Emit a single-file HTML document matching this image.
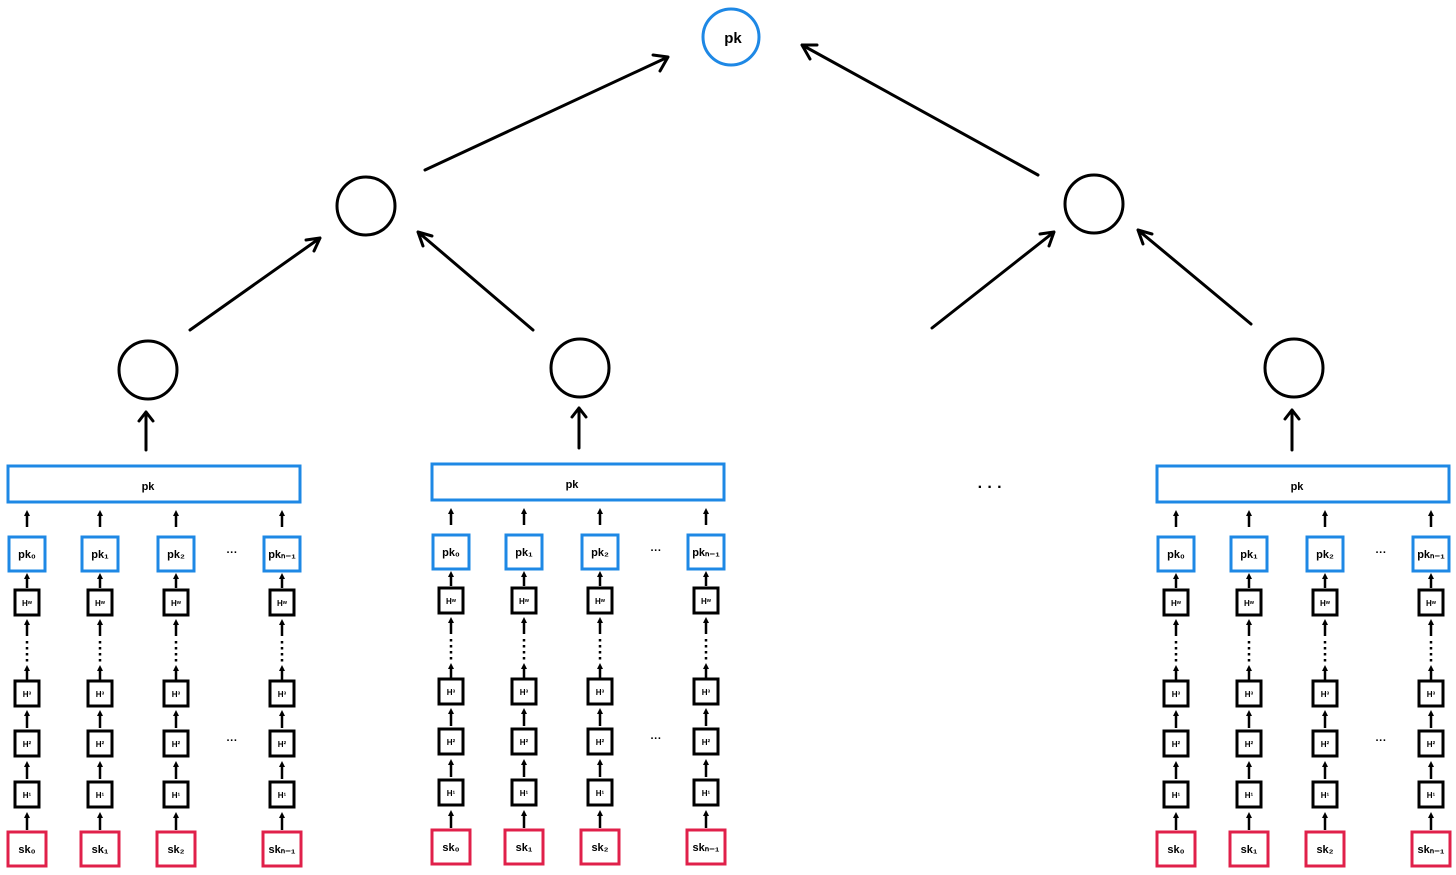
<!DOCTYPE html>
<html><head><meta charset="utf-8"><style>
html,body{margin:0;padding:0;background:#fff;}
svg{display:block}
text{font-family:"Liberation Sans",sans-serif;font-weight:bold;fill:#000;text-anchor:middle}
.s{font-size:11px}
.t{font-size:8px}
</style></head><body>
<svg width="1456" height="875" viewBox="0 0 1456 875" xmlns="http://www.w3.org/2000/svg">
<defs>
<marker id="sa" markerWidth="6" markerHeight="6" refX="3" refY="3" orient="auto" markerUnits="userSpaceOnUse"><path d="M0,0 L6,3 L0,6 z" fill="#000"/></marker>
<g id="col" fill="none" stroke-width="3">
 <line x1="0" y1="527" x2="0" y2="513" stroke="#000" stroke-width="2.5" marker-end="url(#sa)"/>
 <rect x="-18" y="537" width="36" height="34" stroke="#1e88e5"/>
 <line x1="0" y1="588" x2="0" y2="576" stroke="#000" stroke-width="2.5" marker-end="url(#sa)"/>
 <rect x="-12" y="590" width="24" height="25" stroke="#000"/>
 <line x1="0" y1="636" x2="0" y2="622" stroke="#000" stroke-width="2.5" marker-end="url(#sa)"/>
 <line x1="0" y1="641" x2="0" y2="664" stroke="#000" stroke-width="2.5" stroke-dasharray="2.5,3.5"/>
 <line x1="0" y1="680" x2="0" y2="668" stroke="#000" stroke-width="2.5" marker-end="url(#sa)"/>
 <rect x="-12" y="681" width="24" height="25" stroke="#000"/>
 <line x1="0" y1="728" x2="0" y2="713" stroke="#000" stroke-width="2.5" marker-end="url(#sa)"/>
 <rect x="-12" y="731" width="24" height="25" stroke="#000"/>
 <line x1="0" y1="779" x2="0" y2="764" stroke="#000" stroke-width="2.5" marker-end="url(#sa)"/>
 <rect x="-12" y="782" width="24" height="25" stroke="#000"/>
 <line x1="0" y1="830" x2="0" y2="815" stroke="#000" stroke-width="2.5" marker-end="url(#sa)"/>
 <rect x="-19" y="832" width="38" height="34" stroke="#e0204a"/>
</g>
<g id="blk">
 <rect x="8" y="466" width="292" height="36" fill="none" stroke="#1e88e5" stroke-width="3"/>
 <use href="#col" x="27"/><use href="#col" x="100"/><use href="#col" x="176"/><use href="#col" x="282"/>
</g>
</defs>

<!-- tree -->
<g fill="none" stroke="#000" stroke-width="3" stroke-linecap="round" stroke-linejoin="round">
 <circle cx="731" cy="37" r="28" stroke="#1e88e5"/>
 <circle cx="366" cy="206" r="29"/>
 <circle cx="1094" cy="204" r="29"/>
 <circle cx="148" cy="370" r="29"/>
 <circle cx="580" cy="368" r="29"/>
 <circle cx="1294" cy="368" r="29"/>
 <path d="M146,450 L146,412 M139,421 L146,412 L153,421"/>
 <path d="M579,448 L579,408 M572,417 L579,408 L586,417"/>
 <path d="M1292,450 L1292,410 M1285,419 L1292,410 L1299,419"/>
 <path d="M190,330 L320,238 M306,240 L320,238 L314,251"/>
 <path d="M533,330 L418,232 M423,246 L418,232 L432,236"/>
 <path d="M932,328 L1054,232 M1040,234 L1054,232 L1049,246"/>
 <path d="M1251,324 L1138,230 M1143,244 L1138,230 L1152,234"/>
 <path d="M425,170 L668,57 M653,55 L668,57 L660,71"/>
 <path d="M1038,175 L802,45 M810,59 L802,45 L817,45"/>
</g>
<text x="733" y="43" class="s" style="font-size:15px">pk</text>
<text x="990" y="492" style="font-size:16px">· · ·</text>

<!-- blocks -->
<g><use href="#blk"/>
 <text x="148" y="490" class="s">pk</text>
 <text x="232" y="556" class="s">···</text><text x="232" y="744" class="s">···</text>
 <text x="27" y="558" class="s">pk₀</text><text x="100" y="558" class="s">pk₁</text><text x="176" y="558" class="s">pk₂</text><text x="282" y="558" class="s">pkₙ₋₁</text>
 <text x="27" y="606" class="t">Hʷ</text><text x="100" y="606" class="t">Hʷ</text><text x="176" y="606" class="t">Hʷ</text><text x="282" y="606" class="t">Hʷ</text>
 <text x="27" y="697" class="t">H³</text><text x="100" y="697" class="t">H³</text><text x="176" y="697" class="t">H³</text><text x="282" y="697" class="t">H³</text>
 <text x="27" y="747" class="t">H²</text><text x="100" y="747" class="t">H²</text><text x="176" y="747" class="t">H²</text><text x="282" y="747" class="t">H²</text>
 <text x="27" y="798" class="t">H¹</text><text x="100" y="798" class="t">H¹</text><text x="176" y="798" class="t">H¹</text><text x="282" y="798" class="t">H¹</text>
 <text x="27" y="853" class="s">sk₀</text><text x="100" y="853" class="s">sk₁</text><text x="176" y="853" class="s">sk₂</text><text x="282" y="853" class="s">skₙ₋₁</text>
</g>
<g transform="translate(424,-2)"><use href="#blk"/>
 <text x="148" y="490" class="s">pk</text>
 <text x="232" y="556" class="s">···</text><text x="232" y="744" class="s">···</text>
 <text x="27" y="558" class="s">pk₀</text><text x="100" y="558" class="s">pk₁</text><text x="176" y="558" class="s">pk₂</text><text x="282" y="558" class="s">pkₙ₋₁</text>
 <text x="27" y="606" class="t">Hʷ</text><text x="100" y="606" class="t">Hʷ</text><text x="176" y="606" class="t">Hʷ</text><text x="282" y="606" class="t">Hʷ</text>
 <text x="27" y="697" class="t">H³</text><text x="100" y="697" class="t">H³</text><text x="176" y="697" class="t">H³</text><text x="282" y="697" class="t">H³</text>
 <text x="27" y="747" class="t">H²</text><text x="100" y="747" class="t">H²</text><text x="176" y="747" class="t">H²</text><text x="282" y="747" class="t">H²</text>
 <text x="27" y="798" class="t">H¹</text><text x="100" y="798" class="t">H¹</text><text x="176" y="798" class="t">H¹</text><text x="282" y="798" class="t">H¹</text>
 <text x="27" y="853" class="s">sk₀</text><text x="100" y="853" class="s">sk₁</text><text x="176" y="853" class="s">sk₂</text><text x="282" y="853" class="s">skₙ₋₁</text>
</g>
<g transform="translate(1149,0)"><use href="#blk"/>
 <text x="148" y="490" class="s">pk</text>
 <text x="232" y="556" class="s">···</text><text x="232" y="744" class="s">···</text>
 <text x="27" y="558" class="s">pk₀</text><text x="100" y="558" class="s">pk₁</text><text x="176" y="558" class="s">pk₂</text><text x="282" y="558" class="s">pkₙ₋₁</text>
 <text x="27" y="606" class="t">Hʷ</text><text x="100" y="606" class="t">Hʷ</text><text x="176" y="606" class="t">Hʷ</text><text x="282" y="606" class="t">Hʷ</text>
 <text x="27" y="697" class="t">H³</text><text x="100" y="697" class="t">H³</text><text x="176" y="697" class="t">H³</text><text x="282" y="697" class="t">H³</text>
 <text x="27" y="747" class="t">H²</text><text x="100" y="747" class="t">H²</text><text x="176" y="747" class="t">H²</text><text x="282" y="747" class="t">H²</text>
 <text x="27" y="798" class="t">H¹</text><text x="100" y="798" class="t">H¹</text><text x="176" y="798" class="t">H¹</text><text x="282" y="798" class="t">H¹</text>
 <text x="27" y="853" class="s">sk₀</text><text x="100" y="853" class="s">sk₁</text><text x="176" y="853" class="s">sk₂</text><text x="282" y="853" class="s">skₙ₋₁</text>
</g>
</svg>
</body></html>
